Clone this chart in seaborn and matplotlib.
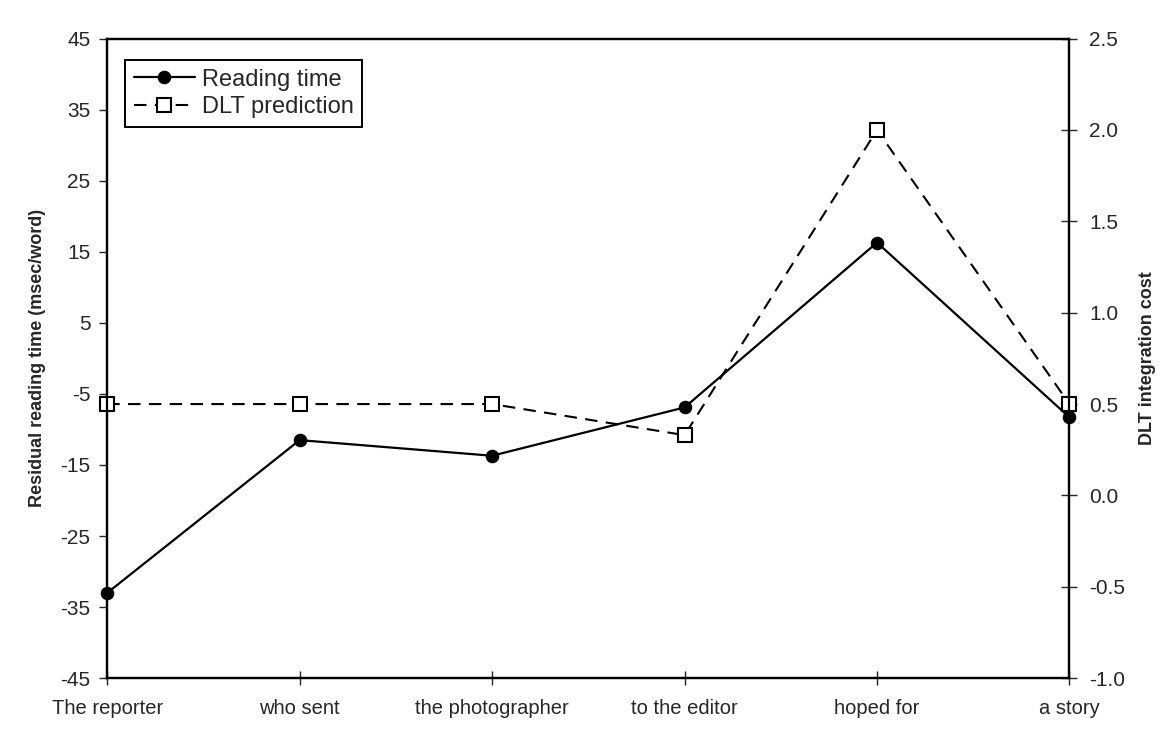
import matplotlib
matplotlib.use("Agg")
import matplotlib.pyplot as plt
import pandas as pd
import seaborn as sns


# Data
regions = ["The reporter", "who sent", "the photographer", "to the editor", "hoped for", "a story"]
reading_time = [-33.0, -11.5, -13.7, -6.9, 16.3, -8.3]
dlt_cost = [0.5, 0.5, 0.5, 0.33, 2.0, 0.5]
left_ticks = [45, 35, 25, 15, 5, -5, -15, -25, -35, -45]
right_ticks = [2.5, 2.0, 1.5, 1.0, 0.5, 0.0, -0.5, -1.0]

sns.set_style("ticks")
plt.rcParams["font.family"] = ["Liberation Sans", "DejaVu Sans"]

df = pd.DataFrame({"pos": range(len(regions)), "region": regions,
                   "rt": reading_time, "dlt": dlt_cost})

fig, ax = plt.subplots(figsize=(11.65, 7.42), dpi=100)
fig.subplots_adjust(left=0.092, right=0.918, top=0.948, bottom=0.086)
ax2 = ax.twinx()

# Reading time (left axis)
sns.lineplot(data=df, x="pos", y="rt", ax=ax, color="black", linewidth=1.6,
             marker="o", markersize=9, markeredgecolor="black",
             label="Reading time", legend=False, clip_on=False)

# DLT prediction (right axis)
sns.lineplot(data=df, x="pos", y="dlt", ax=ax2, color="black", linewidth=1.5,
             marker="s", markersize=10, markerfacecolor="white",
             markeredgecolor="black", markeredgewidth=1.5,
             label="DLT prediction", legend=False, clip_on=False)
for ln in ax2.get_lines():
    ln.set_dashes((6, 4))

ax.set_xlim(0, 5)
ax.set_ylim(-45, 45)
ax2.set_ylim(-1.0, 2.5)
ax.set_xticks(df["pos"])
ax.set_xticklabels(regions)
ax.set_yticks(left_ticks)
ax.set_yticklabels([str(t) for t in left_ticks])
ax2.set_yticks(right_ticks)
ax2.set_yticklabels(["%.1f" % t for t in right_ticks])

ax.set_xlabel("")
ax.set_ylabel("Residual reading time (msec/word)", fontsize=13, fontweight="bold", labelpad=10)
ax2.set_ylabel("DLT integration cost", fontsize=13, fontweight="bold", labelpad=10)

ax.tick_params(axis="y", direction="out", length=6, width=1, labelsize=15, pad=6)
ax.tick_params(axis="x", direction="inout", length=10, width=1, labelsize=14.5, pad=10)
ax2.tick_params(axis="y", direction="inout", length=12, width=1, labelsize=15, pad=8)

for a in (ax, ax2):
    for sp in a.spines.values():
        sp.set_visible(True)
        sp.set_linewidth(1.6)
        sp.set_color("black")

h1, l1 = ax.get_legend_handles_labels()
h2, l2 = ax2.get_legend_handles_labels()
leg = ax2.legend(h1 + h2, l1 + l2, loc="upper left", bbox_to_anchor=(0.019, 0.966),
                 borderaxespad=0, fontsize=17, frameon=True, fancybox=False,
                 edgecolor="black", framealpha=1, handlelength=2.6,
                 handletextpad=0.3, labelspacing=0.25, borderpad=0.35)
leg.get_frame().set_linewidth(1.4)

fig.savefig("out.png", dpi=100)
